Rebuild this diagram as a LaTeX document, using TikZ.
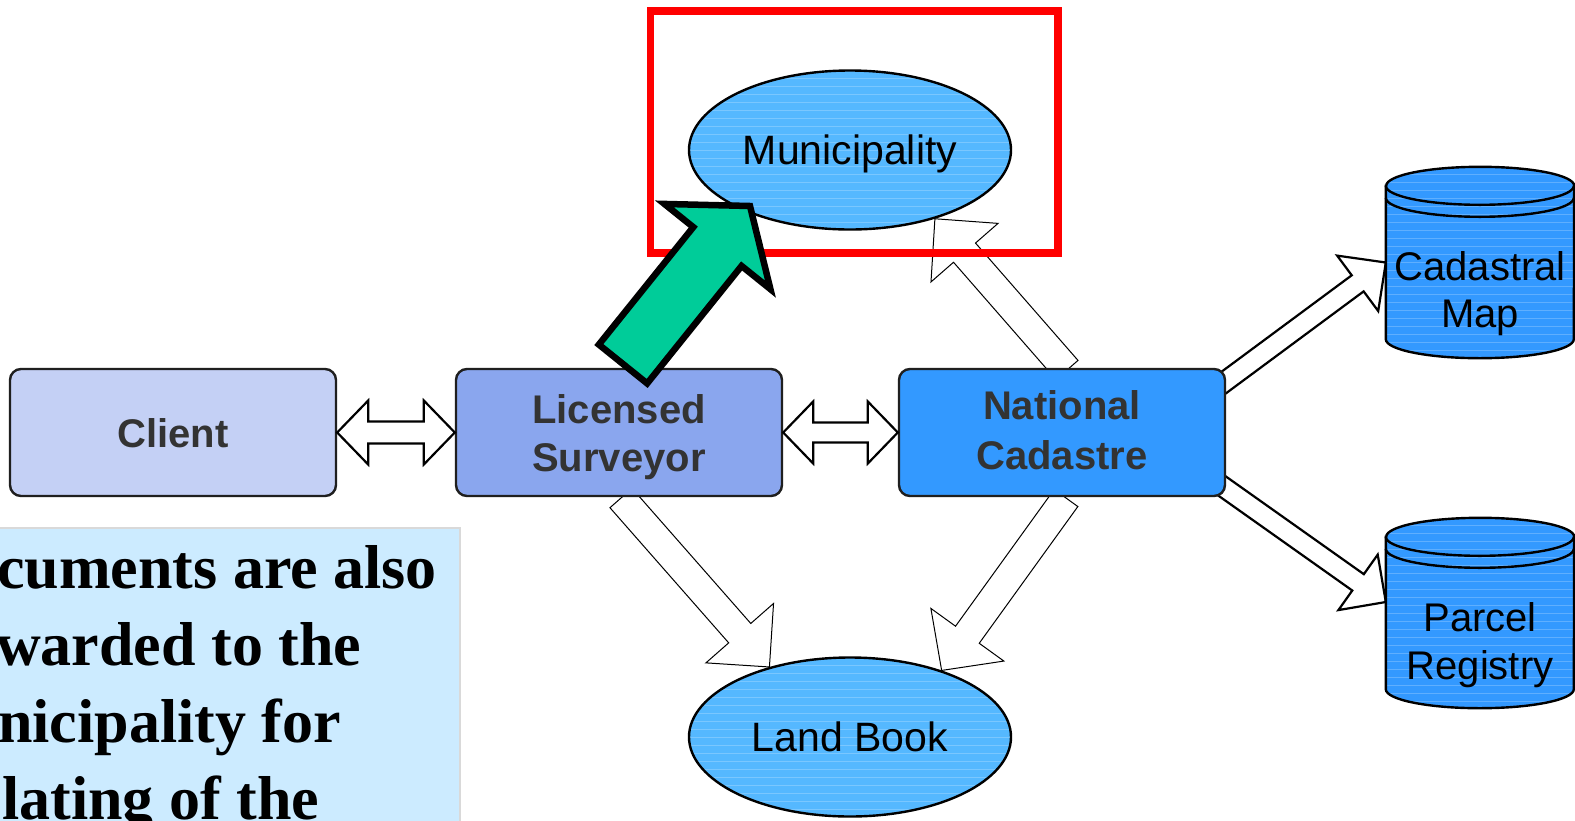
\documentclass[tikz,border=0pt]{standalone}
\usepackage{fontspec}
\setmainfont{Liberation Sans}
\newfontfamily\notefont{Liberation Serif}
\usetikzlibrary{calc,shapes.geometric}
\definecolor{clientc}{HTML}{C4D0F5}
\definecolor{survc}{HTML}{8AA6EE}
\definecolor{natc}{HTML}{3399FF}
\definecolor{ellc}{HTML}{55B8FF}
\definecolor{greenc}{HTML}{00CC99}
\definecolor{notec}{HTML}{CCEBFF}
\definecolor{txtc}{HTML}{333333}
\definecolor{redc}{HTML}{FF0000}
% hollow single arrow: [style]{tail}{tip}{shaft half width}{head half width}{head length}
\newcommand\harrow[6][]{%
  \coordinate (ha) at (#2); \coordinate (hb) at (#3);
  \coordinate (hm) at ($(hb)!#6pt!(ha)$);
  \draw[#1] ($(ha)!#4pt!90:(hb)$) -- ($(hm)!#4pt!-90:(ha)$) -- ($(hm)!#5pt!-90:(ha)$)
    -- (hb) -- ($(hm)!#5pt!90:(ha)$) -- ($(hm)!#4pt!90:(ha)$) -- ($(ha)!#4pt!-90:(hb)$) -- cycle;}
% hollow double arrow: [style]{end a}{end b}{shaft half}{head half}{head length}
\newcommand\darrow[6][]{%
  \coordinate (da) at (#2); \coordinate (db) at (#3);
  \coordinate (dm1) at ($(da)!#6pt!(db)$); \coordinate (dm2) at ($(db)!#6pt!(da)$);
  \draw[#1] (da) -- ($(dm1)!#5pt!90:(db)$) -- ($(dm1)!#4pt!90:(db)$) -- ($(dm2)!#4pt!-90:(da)$)
    -- ($(dm2)!#5pt!-90:(da)$) -- (db) -- ($(dm2)!#5pt!90:(da)$) -- ($(dm2)!#4pt!90:(da)$)
    -- ($(dm1)!#4pt!-90:(db)$) -- ($(dm1)!#5pt!-90:(db)$) -- cycle;}
% cylinder drawn inside a geometry node
\newcommand\cylinder[1]{%
  \draw[cylline, fill=natc, stripes] let \p1=(#1.north west), \p2=(#1.south east) in
    (\x1,\y1-19pt) -- (\x1,\y2+19pt) arc[start angle=180,end angle=360,x radius=94pt,y radius=19pt]
    -- (\x2,\y1-19pt) arc[start angle=0,end angle=180,x radius=94pt,y radius=19pt] -- cycle;
  \draw[cylline] let \p1=(#1.north west) in
    (\x1,\y1-19pt) arc[start angle=180,end angle=360,x radius=94pt,y radius=19pt]
    (\x1,\y1-31pt) arc[start angle=180,end angle=360,x radius=94pt,y radius=19pt];}
\begin{document}
\begin{tikzpicture}[x=1pt,y=-1pt,
  stripes/.style={path picture={\foreach \k in {-120,-112,...,120}
      \draw[white, opacity=0.22, line width=0.8pt]
        ([xshift=-200pt, yshift=\k pt]path picture bounding box.center) -- ++(400,0);}},
  box/.style={draw=black!88, line width=2.4pt, rounded corners=11pt, minimum width=326pt,
    minimum height=127pt, inner sep=0pt, align=center, text=txtc, text depth=0pt,
    font=\fontsize{40}{48}\selectfont\bfseries},
  ell/.style={ellipse, draw=black, line width=2.4pt, fill=ellc, inner sep=0pt, stripes,
    minimum width=322pt, minimum height=159pt, text depth=0pt, font=\fontsize{41}{48}\selectfont},
  geom/.style={inner sep=0pt, minimum width=188pt},
  cyltext/.style={align=center, inner sep=0pt, font=\fontsize{40}{47.5}\selectfont},
  cylline/.style={draw=black, line width=2.4pt},
  thinarrow/.style={draw=black, fill=white, line width=1pt, line join=miter},
  midarrow/.style={draw=black, fill=white, line width=2.2pt, line join=miter},
  bigarrow/.style={draw=black, fill=greenc, line width=6.5pt, line join=miter, miter limit=10},
  notetext/.style={anchor=base west, inner sep=0pt, font=\notefont\fontsize{62}{70}\selectfont\bfseries},
]
\useasboundingbox (0,0) rectangle (1575,820);
\fill[white] (0,0) rectangle (1575,820);

% node geometry
\node[ell, draw=none, fill=none, path picture={}] (mu0) at (850,150) {};
\node[ell, draw=none, fill=none, path picture={}] (lb0) at (850,737) {};
\node[geom, minimum height=191pt] (cm) at (1480,262.5) {};
\node[geom, minimum height=190pt] (pr) at (1480,613) {};

% tails of the connectors (hidden under the boxes)
\coordinate (tA) at (621,498);
\coordinate (tB) at (1066,498);
\coordinate (tC) at (1067,370);
\coordinate (tD) at (1215,389);
\coordinate (tE) at (1215,481);

% thin hollow arrows
\harrow[thinarrow]{tA}{lb0.139}{14.7}{45}{45}
\harrow[thinarrow]{tB}{lb0.36}{14.6}{45}{44}
\harrow[thinarrow]{tC}{mu0.-39}{14.6}{44.5}{45}
% arrows to the registries
\harrow[midarrow]{tD}{cm.west}{10}{34.5}{35}
\harrow[midarrow]{tE}{$(pr.west)+(0,-11)$}{10}{34}{34}

% red frame
\draw[redc, line width=7.5pt] (650.5,11) rectangle (1058,253);

% ellipses
\node[ell] (mu) at (850,150) {Municipality};
\node[ell] (lb) at (850,737) {Land Book};

% boxes
\node[box, fill=clientc] (cl) at (173,432.5) {Client};
\node[box, fill=survc] (ls) at (619,432.5) {Licensed\\Surveyor};
\node[box, fill=natc, text depth=6pt, font=\fontsize{40}{50}\selectfont\bfseries] (nc) at (1062,432.5) {National\\Cadastre};

% double arrows
\darrow[midarrow]{cl.east}{ls.west}{11}{32}{31}
\darrow[midarrow]{ls.east}{nc.west}{10}{31}{30}

% cylinders
\cylinder{cm}
\cylinder{pr}
\node[cyltext] (cmt) at (1480,293.5) {Cadastral\\Map};
\node[cyltext] (prt) at (1480,645) {Parcel\\Registry};

% note box
\node[draw=black!15, line width=1.5pt, fill=notec, anchor=north west, inner sep=0pt,
      minimum width=470pt, minimum height=310pt] (tb) at (-11,527) {};
\node[notetext] (n1) at (-3,588) {cuments are also};
\node[notetext] (n2) at (-4,665) {warded to the};
\node[notetext] (n3) at (-2,742) {nicipality for};
\node[notetext] (n4) at (2,819) {lating of the};

% green arrow
\coordinate (gT) at (623,364);
\coordinate (gH) at (750,206);
\harrow[bigarrow]{gT}{gH}{31}{68}{52}
\end{tikzpicture}
\end{document}
